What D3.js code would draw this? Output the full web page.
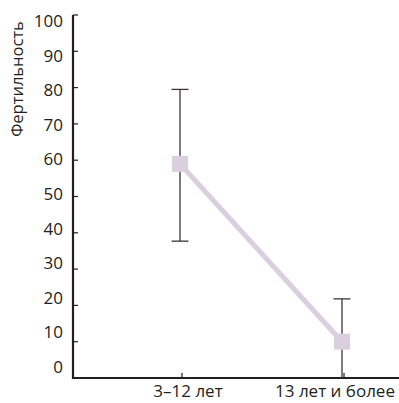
<!DOCTYPE html>
<head>
    <meta charset="utf-8">
    <script src="https://d3js.org/d3.v7.min.js"></script>
    <style>
      body { margin: 0; background: #fff; }
      text {
        font-family: "Open Sans", "Noto Sans", sans-serif;
        fill: #231f20;
      }
      .ticklabel { font-size: 17px; }
      .axistitle { font-size: 16.5px; }
      .catlabel { font-size: 17px; }
    </style>
<body>
    <script>
        // data
        var categories = ["3–12 лет", "13 лет и более"]
        var means = [59, 10]
        var upper = [79.5, 21.8]
        var lower = [37.7, 0]
        var yTicks = [0, 10, 20, 30, 40, 50, 60, 70, 80, 90, 100]

        var svg_w = 399
        var svg_h = 403
        var axisX = 73
        var axisColor = "#231f20"
        var markColor = "#d9cfdf"

        var svg = d3.select("body")
          .append("svg")
          .attr("width", svg_w)
          .attr("height", svg_h)

        var yScale = d3.scaleLinear().domain([0, 100]).range([378, 15])
        // tick labels in the original drift slightly from the tick marks
        var yLabelScale = d3.scaleLinear().domain([0, 100]).range([367, 21])
        var xScale = d3.scalePoint().domain(categories).range([180, 342])
        var xLabelScale = d3.scalePoint().domain(categories).range([188, 335])

        // y ticks (inside, to the right of the axis)
        svg.append("g")
          .selectAll("line")
          .data(yTicks.filter(function(d){ return d > 0 }))
          .enter()
          .append("line")
          .attr("x1", axisX)
          .attr("x2", axisX + 5)
          .attr("y1", function(d){ return yScale(d) })
          .attr("y2", function(d){ return yScale(d) })
          .attr("stroke", axisColor)
          .attr("stroke-width", 1.2)

        svg.append("g")
          .selectAll("text")
          .data(yTicks)
          .enter()
          .append("text")
          .classed("ticklabel", true)
          .attr("x", 63)
          .attr("y", function(d){ return yLabelScale(d) })
          .attr("dy", "0.35em")
          .attr("text-anchor", "end")
          .text(function(d){ return d })

        // axes
        svg.append("line")
          .attr("x1", axisX).attr("x2", axisX)
          .attr("y1", yScale(100)).attr("y2", yScale(0) + 1)
          .attr("stroke", axisColor)
          .attr("stroke-width", 2.2)
        svg.append("line")
          .attr("x1", axisX - 1).attr("x2", svg_w)
          .attr("y1", yScale(0)).attr("y2", yScale(0))
          .attr("stroke", axisColor)
          .attr("stroke-width", 2.2)

        // x ticks (inside, upward)
        svg.append("g")
          .selectAll("line")
          .data(categories)
          .enter()
          .append("line")
          .attr("x1", function(d){ return xScale(d) + 2 })
          .attr("x2", function(d){ return xScale(d) + 2 })
          .attr("y1", yScale(0))
          .attr("y2", yScale(0) - 5)
          .attr("stroke", axisColor)
          .attr("stroke-width", 1.2)

        svg.append("g")
          .selectAll("text")
          .data(categories)
          .enter()
          .append("text")
          .classed("catlabel", true)
          .attr("x", function(d){ return xLabelScale(d) })
          .attr("y", 397)
          .attr("text-anchor", "middle")
          .text(function(d){ return d })

        // y title
        svg.append("text")
          .classed("axistitle", true)
          .attr("transform", "translate(23,79) rotate(-90)")
          .attr("text-anchor", "middle")
          .text("Фертильность")

        var pts = categories.map(function(c, i){
          return {cat: c, mean: means[i], hi: upper[i], lo: lower[i]}
        })

        // error bars
        var eb = svg.append("g").selectAll("g").data(pts).enter().append("g")
        eb.append("line")
          .attr("x1", function(d){ return xScale(d.cat) })
          .attr("x2", function(d){ return xScale(d.cat) })
          .attr("y1", function(d){ return yScale(d.hi) })
          .attr("y2", function(d){ return yScale(d.lo) })
          .attr("stroke", "#3a3536")
          .attr("stroke-width", 1.3)
        eb.append("line")
          .attr("x1", function(d){ return xScale(d.cat) - 8.5 })
          .attr("x2", function(d){ return xScale(d.cat) + 8.5 })
          .attr("y1", function(d){ return yScale(d.hi) })
          .attr("y2", function(d){ return yScale(d.hi) })
          .attr("stroke", "#3a3536")
          .attr("stroke-width", 1.3)
        eb.filter(function(d){ return d.lo > 0 }).append("line")
          .attr("x1", function(d){ return xScale(d.cat) - 8.5 })
          .attr("x2", function(d){ return xScale(d.cat) + 8.5 })
          .attr("y1", function(d){ return yScale(d.lo) })
          .attr("y2", function(d){ return yScale(d.lo) })
          .attr("stroke", "#3a3536")
          .attr("stroke-width", 1.3)

        // connecting line
        var line = d3.line()
          .x(function(d){ return xScale(d.cat) })
          .y(function(d){ return yScale(d.mean) })
        svg.append("path")
          .datum(pts)
          .attr("d", line)
          .attr("fill", "none")
          .attr("stroke", markColor)
          .attr("stroke-width", 5)

        // square markers
        svg.append("g")
          .selectAll("rect")
          .data(pts)
          .enter()
          .append("rect")
          .attr("x", function(d){ return xScale(d.cat) - 8 })
          .attr("y", function(d){ return yScale(d.mean) - 8 })
          .attr("width", 16)
          .attr("height", 16)
          .attr("fill", markColor)
    </script>
</body>
